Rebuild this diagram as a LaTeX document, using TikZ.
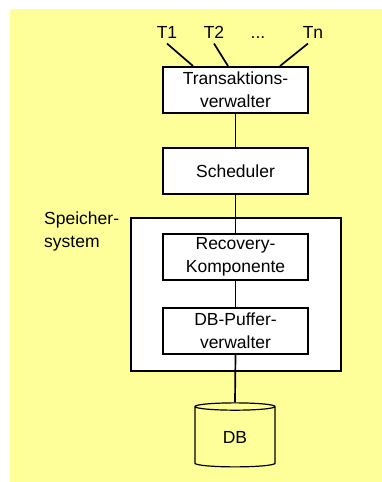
\documentclass[tikz,border=0pt]{standalone}
\usepackage{fontspec}
\setmainfont{Liberation Sans}
\usetikzlibrary{shapes.geometric}

\begin{document}
\begin{tikzpicture}[x=1pt, y=-1pt,
    font=\fontsize{17.5}{23}\selectfont,
    box/.style={draw, fill=white, line width=2pt, minimum width=145pt, minimum height=46pt, align=center, inner sep=0pt},
    link/.style={line width=1.7pt}]
    \definecolor{bgColour}{HTML}{FFFF99}

    % Background
    \useasboundingbox (0,0) rectangle (382,482);
    \fill[bgColour] (10,9) rectangle (382,482);

    % Transactions
    \node[anchor=base] (t1) at (167,38) {T1};
    \node[anchor=base] (t2) at (214,38) {T2};
    \node[anchor=base] (tdots) at (258,38) {...};
    \node[anchor=base] (tn) at (313,38) {Tn};

    % Storage system frame
    \node[draw, fill=white, line width=2pt, minimum width=210pt, minimum height=153pt, inner sep=0pt] (speicher) at (236,294.5) {};
    \node[anchor=north west, align=left, inner sep=0pt] (speicherlabel) at (44,212) {Speicher-\\system};

    % Components
    \node[box] (ta) at (235.5,90) {Transaktions-\\verwalter};
    \node[box] (sched) at (235.5,171) {Scheduler};
    \node[box] (recov) at (235.5,256.5) {Recovery-\\Komponente};
    \node[box] (puffer) at (235.5,331) {DB-Puffer-\\verwalter};

    % Database
    \node[cylinder, shape border rotate=90, draw, fill=bgColour, line width=1.2pt, minimum width=80pt, minimum height=64pt, aspect=0.3, inner sep=0pt] (db) at (235,437) {DB};

    % Connectors
    \coordinate (in1) at (193,66);
    \coordinate (in2) at (228,66);
    \coordinate (inn) at (280,66);
    \draw[link] (t1.south) ++(0,2) -- (in1);
    \draw[link] (t2.south) ++(0,2) -- (in2);
    \draw[link] (tn.south) ++(-5,2) -- (inn);
    \draw[link] (ta) -- (sched);
    \draw[link] (sched.south) -- (recov.north);
    \draw[link] (recov) -- (puffer);
    \draw[link] (puffer.south) -- (db.top);

\end{tikzpicture}
\end{document}
